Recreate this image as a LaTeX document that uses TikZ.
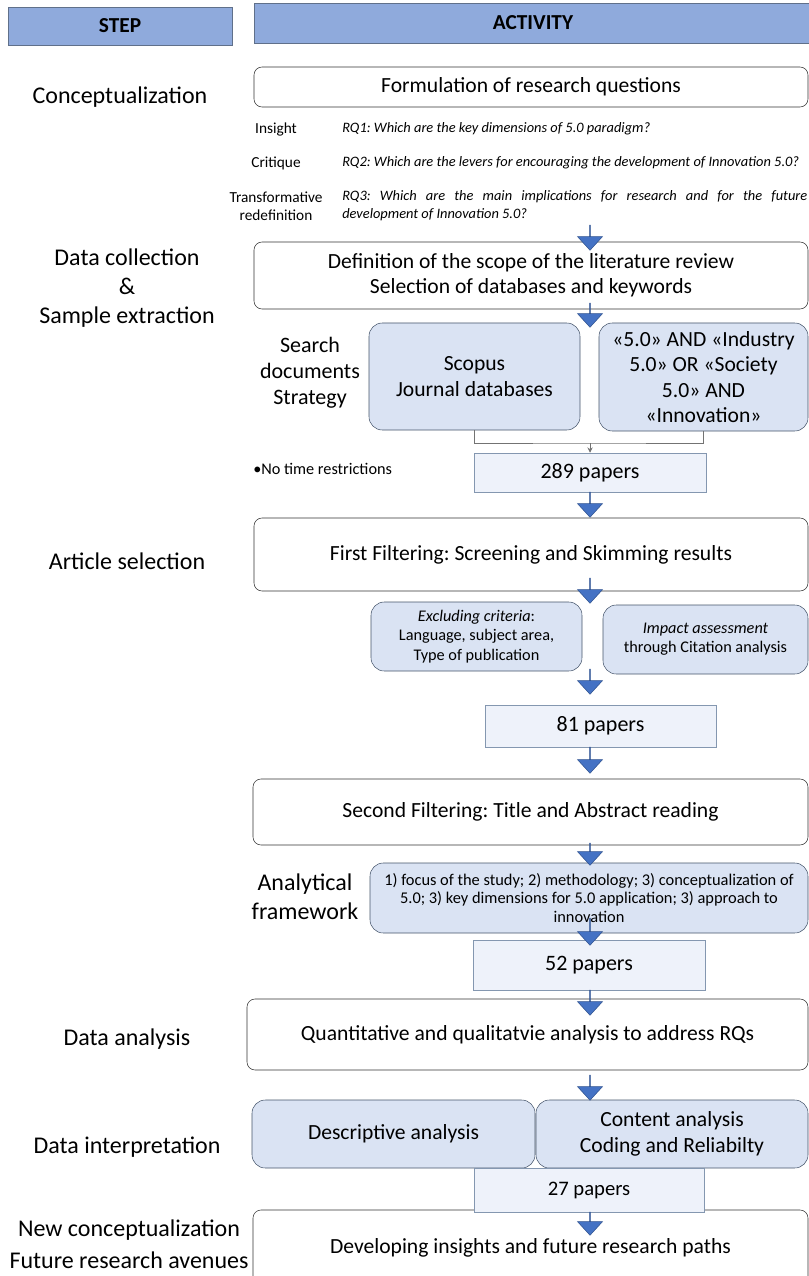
\documentclass[tikz,border=0pt]{standalone}
\usepackage{fontspec}
\setmainfont{Carlito}
\usetikzlibrary{shapes.arrows,arrows.meta}
\definecolor{hdrblue}{HTML}{8FAADC}
\definecolor{hdredge}{HTML}{60708A}
\definecolor{paleblue}{HTML}{DAE3F3}
\definecolor{paleedge}{HTML}{44546A}
\definecolor{paperfill}{HTML}{EEF2FA}
\definecolor{paperedge}{HTML}{8497B0}
\definecolor{arrblue}{HTML}{4472C4}
\definecolor{arredge}{HTML}{2F528F}
\frenchspacing
\begin{document}
\begin{tikzpicture}[x=0.75pt,y=-0.75pt]
	% one pixel of the layout
	\def\px{0.75pt}
	% width of the justified RQ3 line (465 px)
	\def\rqwidth{348.75pt}
	% node style definition
	\tikzstyle{head} = [draw=hdredge, fill=hdrblue, inner sep=0pt, font=\bfseries\fontsize{16}{19}\selectfont];
	\tikzstyle{task} = [draw=black!80, fill=white, rounded corners=6pt, inner sep=0pt, align=center, font=\fontsize{16.2}{19}\selectfont];
	\tikzstyle{pale} = [draw=paleedge, fill=paleblue, rounded corners=10pt, inner sep=0pt, align=center, font=\fontsize{16.2}{19}\selectfont];
	\tikzstyle{paper} = [draw=paperedge, fill=paperfill, inner sep=0pt, font=\fontsize{16.5}{19}\selectfont];
	\tikzstyle{steplabel} = [align=center, font=\fontsize{18}{21.5}\selectfont];
	\tikzstyle{rqlabel} = [align=center, font=\fontsize{11.5}{13.5}\selectfont];
	\tikzstyle{rqtext} = [inner sep=0pt, font=\itshape\fontsize{10.8}{13.5}\selectfont];
	\tikzstyle{small} = [font=\fontsize{12.2}{14.5}\selectfont];
	\tikzstyle{link} = [draw=black!55, line width=0.6pt];
	\tikzstyle{downarrow} = [single arrow, draw=arredge, fill=arrblue, rotate=-90, inner sep=0pt, minimum width=25*\px, single arrow head extend=7.5*\px, single arrow tip angle=85];
	\useasboundingbox (0,0) rectangle (809,1276);
	% header
	\node[head, minimum width=224*\px, minimum height=38*\px] (step) at (120,26) {STEP};
	\node[head, minimum width=558*\px, minimum height=40*\px] (activity) at (533,23) {ACTIVITY};
	% conceptualization
	\node[steplabel] (concept) at (120,97) {Conceptualization};
	\node[task, minimum width=554*\px, minimum height=40*\px] (formul) at (531,87) {Formulation of research questions};
	\node[rqlabel] (insight) at (276,129) {Insight};
	\node[rqlabel] (critique) at (276,163) {Critique};
	\node[rqlabel] (transf) at (276,206) {Transformative\\redefinition};
	\node[rqtext, anchor=west] (rq1) at (342,129) {RQ1: Which are the key dimensions of 5.0 paradigm?};
	\node[rqtext, anchor=west] (rq2) at (342,163) {RQ2: Which are the levers for encouraging the development of Innovation 5.0?};
	\node[rqtext, anchor=west, align=left] (rq3) at (342,206) {\makebox[\rqwidth][s]{RQ3: Which are the main implications for research and for the future}\\development of Innovation 5.0?};
	% data collection
	\node[steplabel] (collect) at (127,288) {Data collection\\\&\\Sample extraction};
	\node[task, minimum width=554*\px, minimum height=67*\px] (scope) at (531,275.5) {Definition of the scope of the literature review\\Selection of databases and keywords};
	\node[steplabel, font=\fontsize{16.5}{19.5}\selectfont] (search) at (310,373) {Search\\documents\\Strategy};
	\node[pale, minimum width=211*\px, minimum height=107*\px] (scopus) at (474.5,376.5) {Scopus\\Journal databases};
	\node[pale, minimum width=209*\px, minimum height=108*\px] (kw) at (703.5,377) {«5.0» AND «Industry\\5.0» OR «Society\\5.0» AND\\«Innovation»};
	\node[small, anchor=west, inner sep=0pt] (notime) at (253,469) {•No time restrictions};
	\node[paper, minimum width=232*\px, minimum height=39*\px] (p289) at (590,472.5) {289 papers};
	\coordinate (merge) at (590,443);
	\draw[link] (scopus.south) |- (merge) -| (kw.south);
	\draw[link, -{Stealth[length=4pt,width=4pt]}] (merge) -- (p289.north);
	% article selection
	\node[steplabel] (select) at (127,561) {Article selection};
	\node[task, minimum width=554*\px, minimum height=73*\px] (first) at (531,554.5) {First Filtering: Screening and Skimming results};
	\node[pale, small, minimum width=211*\px, minimum height=69*\px] (exclude) at (476.5,636.5) {\textit{Excluding criteria}:\\Language, subject area,\\Type of publication};
	\node[pale, small, minimum width=205*\px, minimum height=69*\px] (impact) at (705.5,639.5) {\textit{Impact assessment}\\through Citation analysis};
	\node[paper, minimum width=231*\px, minimum height=42*\px] (p81) at (600.5,726) {81 papers};
	\node[task, minimum width=555*\px, minimum height=66*\px] (second) at (530.5,812) {Second Filtering: Title and Abstract reading};
	% analytical framework
	\node[steplabel] (frame) at (305,897) {Analytical\\framework};
	\node[pale, font=\fontsize{12.3}{14.2}\selectfont, minimum width=438*\px, minimum height=70*\px] (dims) at (589,898) {1) focus of the study; 2) methodology; 3) conceptualization of\\5.0; 3) key dimensions for 5.0 application; 3) approach to\\innovation};
	\node[paper, minimum width=232*\px, minimum height=50*\px] (p52) at (589,965) {52 papers};
	% data analysis
	\node[steplabel] (analysis) at (127,1039) {Data analysis};
	\node[task, minimum width=561*\px, minimum height=71*\px] (quant) at (527.5,1034.5) {Quantitative and qualitatvie analysis to address RQs};
	% data interpretation
	\node[steplabel] (interp) at (127,1147) {Data interpretation};
	\node[pale, minimum width=283*\px, minimum height=68*\px] (descr) at (393.5,1134) {Descriptive analysis};
	\node[pale, minimum width=272*\px, minimum height=68*\px] (content) at (672,1134) {Content analysis\\Coding and Reliabilty};
	% new conceptualization
	\node[steplabel, font=\fontsize{18}{24}\selectfont] (future) at (129,1244) {New conceptualization\\Future research avenues};
	\node[task, minimum width=555*\px, minimum height=75*\px] (develop) at (530.5,1247.5) {\raisebox{3pt}{Developing insights and future research paths}};
	\node[paper, font=\fontsize{15.5}{18}\selectfont, minimum width=230*\px, minimum height=44*\px] (p27) at (589,1190) {27 papers};
	% block arrows between the steps
	\foreach \yc/\len [count=\i] in {237.5/25, 315/24, 504.5/25, 590.5/25, 681.5/25, 760/26, 854/22, 931.5/27, 1002.5/25, 1087.5/25, 1223.5/23} {
		\node[downarrow, minimum height=\len*\px] (arr\i) at (590,\yc) {};
	}
\end{tikzpicture}
\end{document}
